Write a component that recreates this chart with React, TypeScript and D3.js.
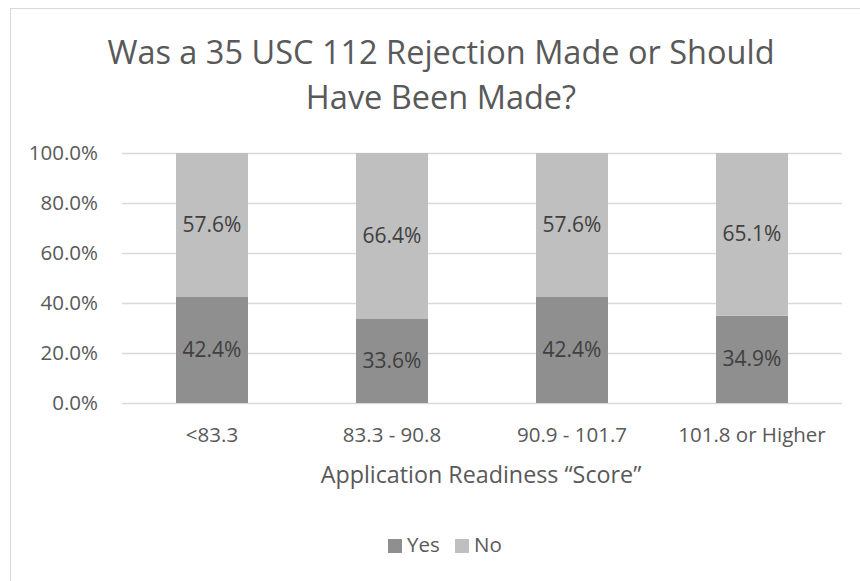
import React from "react";
import * as d3 from "d3";

const categories = ["<83.3", "83.3 - 90.8", "90.9 - 101.7", "101.8 or Higher"];
const yesValues = [42.4, 33.6, 42.4, 34.9];
const noValues = [57.6, 66.4, 57.6, 65.1];
const yTicks = [0, 20, 40, 60, 80, 100];
const seriesNames = ["Yes", "No"];
const titleLines = ["Was a 35 USC 112 Rejection Made or Should", "Have Been Made?"];
const xTitle = "Application Readiness \u201CScore\u201D";

const W = 860;
const H = 581;
const plot = { left: 122, right: 842, top: 153, bottom: 403 };
const colors = { Yes: "#8f8f8f", No: "#bfbfbf" };
const textColor = "#595959";
const font = "'Open Sans', 'Noto Sans', sans-serif";
const fs = 20.5;

export default function App() {
  const x = d3
    .scaleBand<string>()
    .domain(categories)
    .range([plot.left, plot.right])
    .paddingInner(0.6)
    .paddingOuter(0.3);
  const y = d3.scaleLinear().domain([0, 100]).range([plot.bottom, plot.top]);

  const rows = categories.map((c, i) => ({ cat: c, Yes: yesValues[i], No: noValues[i] }));
  const stacked = d3.stack<any>().keys(seriesNames)(rows);

  return (
    <svg
      width={W}
      height={H}
      style={{ position: "absolute", left: 0, top: 0, background: "#fff" }}
      fontFamily={font}
    >
      <rect x={10.5} y={8.5} width={900} height={700} fill="#fff" stroke="#d9d9d9" strokeWidth={1} />
      {titleLines.map((t, i) => (
        <text key={t} x={441} y={64 + i * 45} textAnchor="middle" fontSize={32.5} fill={textColor}>
          {t}
        </text>
      ))}
      {yTicks.map((t) => (
        <g key={t}>
          <line x1={plot.left} x2={plot.right} y1={Math.round(y(t)) + 0.5} y2={Math.round(y(t)) + 0.5} stroke="#d9d9d9" strokeWidth={1.3} />
          <text x={98} y={y(t) + 7} textAnchor="end" fontSize={fs} fill={textColor}>
            {t.toFixed(1)}%
          </text>
        </g>
      ))}
      {stacked.map((s) => (
        <g key={s.key}>
          {s.map((d, i) => (
            <g key={i}>
              <rect
                x={x(categories[i])}
                width={x.bandwidth()}
                y={y(d[1])}
                height={y(d[0]) - y(d[1])}
                fill={(colors as any)[s.key]}
              />
              <text
                x={(x(categories[i]) as number) + x.bandwidth() / 2}
                y={(y(d[0]) + y(d[1])) / 2 + 7}
                textAnchor="middle"
                fontSize={21}
                fill="#404040"
              >
                {(d[1] - d[0]).toFixed(1)}%
              </text>
            </g>
          ))}
        </g>
      ))}
      {categories.map((c) => (
        <text key={c} x={(x(c) as number) + x.bandwidth() / 2} y={442} textAnchor="middle" fontSize={fs} fill={textColor}>
          {c}
        </text>
      ))}
      <text x={481} y={483} textAnchor="middle" fontSize={23.3} fill={textColor}>
        {xTitle}
      </text>
      <g>
        <rect x={388} y={539} width={14} height={14} fill={colors.Yes} />
        <text x={407} y={552} fontSize={fs} fill={textColor}>Yes</text>
        <rect x={455} y={539} width={14} height={14} fill={colors.No} />
        <text x={474} y={552} fontSize={fs} fill={textColor}>No</text>
      </g>
    </svg>
  );
}
